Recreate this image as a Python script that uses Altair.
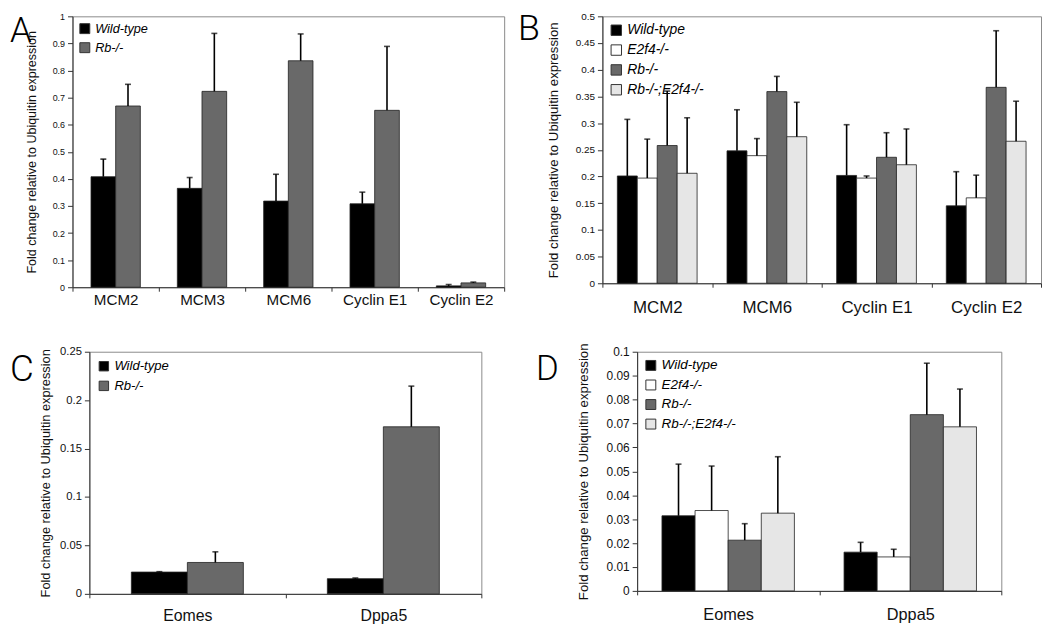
import altair as alt
import pandas as pd

FONT = "Liberation Sans"
YTITLE = "Fold change relative to Ubiquitin expression"

GENO_2 = ["Wild-type", "Rb-/-"]
GENO_4 = ["Wild-type", "E2f4-/-", "Rb-/-", "Rb-/-;E2f4-/-"]
COLORS_2 = ["#000000", "#696969"]
COLORS_4 = ["#000000", "#ffffff", "#696969", "#e6e6e6"]

# Panel A
a_genes = ["MCM2", "MCM3", "MCM6", "Cyclin E1", "Cyclin E2"]
a_wt = [0.408, 0.365, 0.318, 0.308, 0.005]
a_wt_err = [0.065, 0.040, 0.099, 0.043, 0.005]
a_rb = [0.669, 0.723, 0.836, 0.653, 0.016]
a_rb_err = [0.080, 0.214, 0.099, 0.236, 0.003]
a_ticks = [0, 0.1, 0.2, 0.3, 0.4, 0.5, 0.6, 0.7, 0.8, 0.9, 1]

# Panel B
b_genes = ["MCM2", "MCM6", "Cyclin E1", "Cyclin E2"]
b_wt = [0.201, 0.248, 0.202, 0.145]
b_wt_err = [0.106, 0.077, 0.095, 0.064]
b_e2f4 = [0.197, 0.239, 0.197, 0.160]
b_e2f4_err = [0.073, 0.032, 0.004, 0.0425]
b_rb = [0.258, 0.359, 0.236, 0.367]
b_rb_err = [0.102, 0.0285, 0.046, 0.106]
b_dko = [0.206, 0.2745, 0.222, 0.266]
b_dko_err = [0.104, 0.0645, 0.067, 0.075]
b_ticks = [0, 0.05, 0.1, 0.15, 0.2, 0.25, 0.3, 0.35, 0.4, 0.45, 0.5]

# Panel C
c_genes = ["Eomes", "Dppa5"]
c_wt = [0.0225, 0.0157]
c_wt_err = [0.0004, 0.0007]
c_rb = [0.0324, 0.1725]
c_rb_err = [0.011, 0.042]
c_ticks = [0, 0.05, 0.1, 0.15, 0.2, 0.25]

# Panel D
d_genes = ["Eomes", "Dppa5"]
d_wt = [0.0314, 0.0162]
d_wt_err = [0.0216, 0.0041]
d_e2f4 = [0.0336, 0.0142]
d_e2f4_err = [0.0186, 0.0032]
d_rb = [0.0212, 0.0737]
d_rb_err = [0.0069, 0.0215]
d_dko = [0.0325, 0.0686]
d_dko_err = [0.0236, 0.0158]
d_ticks = [0, 0.01, 0.02, 0.03, 0.04, 0.05, 0.06, 0.07, 0.08, 0.09, 0.1]


def make_df(genes, series):
    rows = []
    for geno, vals, errs in series:
        for gene, v, e in zip(genes, vals, errs):
            rows.append({"gene": gene, "genotype": geno, "value": v, "upper": v + e})
    return pd.DataFrame(rows)


def panel(letter, genes, genos, colors, df, yticks, w, h, c):
    xaxis = alt.Axis(labelAngle=0, tickBand="extent", tickSize=4, labelPadding=c["xpad"],
                     labelFontSize=c["xfs"], labelFont=FONT, labelColor="#111",
                     domainColor="#333", tickColor="#333", grid=False, title=None)
    x = alt.X("gene:N", sort=genes, scale=alt.Scale(paddingInner=0, paddingOuter=0),
              axis=xaxis, title=None)
    xo = alt.XOffset("genotype:N", sort=genos,
                     scale=alt.Scale(paddingInner=0, paddingOuter=0.75))
    yaxis = alt.Axis(values=yticks, format="~g", title=YTITLE, grid=False,
                     tickSize=5, labelPadding=3, labelFontSize=c["yfs"], labelFont=FONT,
                     labelColor="#111", titleFont=FONT, titleFontSize=c["tfs"],
                     titleFontWeight="normal", titleColor="#111", titlePadding=c["tpad"],
                     domainColor="#333", tickColor="#333")
    yscale = alt.Scale(domain=[0, yticks[-1]], nice=False, zero=True)
    legend = alt.Legend(title=None, orient="top-left", offset=c["loff"], padding=0,
                        symbolType="square", symbolSize=c["ssize"], symbolStrokeColor="#333",
                        symbolStrokeWidth=1, symbolOpacity=1, labelFont=FONT,
                        labelFontStyle="italic", labelFontSize=c["lfs"], labelColor="#000",
                        rowPadding=c["lrow"], labelOffset=4)
    color = alt.Color("genotype:N", sort=genos,
                      scale=alt.Scale(domain=genos, range=colors), legend=legend)
    base = alt.Chart(df).encode(x=x, xOffset=xo)
    bars = base.mark_bar(stroke="#222", strokeWidth=0.8).encode(
        y=alt.Y("value:Q", scale=yscale, axis=yaxis, title=YTITLE), color=color)
    rules = base.mark_rule(color="black", strokeWidth=1.6).encode(
        y=alt.Y("value:Q", scale=yscale, axis=yaxis, title=YTITLE), y2="upper:Q")
    caps = base.mark_tick(color="black", thickness=1.6, size=6).encode(
        y=alt.Y("upper:Q", scale=yscale, axis=yaxis, title=YTITLE))
    lab = alt.Chart(pd.DataFrame({"t": [letter]})).mark_text(
        align="left", baseline="top", fontSize=c["letfs"], font="Roboto", fontWeight=300,
        color="black").encode(text="t:N", x=alt.value(c["lx"]), y=alt.value(c["ly"]))
    return alt.layer(bars, rules, caps, lab).properties(width=w, height=h)


def spacer():
    return alt.Chart(pd.DataFrame({"z": [0]})).mark_rule(strokeWidth=0, opacity=0).encode(
        x=alt.value(0), y=alt.value(0), y2=alt.value(1)
    ).properties(width=1, height=1, view=alt.ViewBackground(stroke=None))


df_a = make_df(a_genes, [("Wild-type", a_wt, a_wt_err), ("Rb-/-", a_rb, a_rb_err)])
df_b = make_df(b_genes, [("Wild-type", b_wt, b_wt_err), ("E2f4-/-", b_e2f4, b_e2f4_err),
                         ("Rb-/-", b_rb, b_rb_err), ("Rb-/-;E2f4-/-", b_dko, b_dko_err)])
df_c = make_df(c_genes, [("Wild-type", c_wt, c_wt_err), ("Rb-/-", c_rb, c_rb_err)])
df_d = make_df(d_genes, [("Wild-type", d_wt, d_wt_err), ("E2f4-/-", d_e2f4, d_e2f4_err),
                         ("Rb-/-", d_rb, d_rb_err), ("Rb-/-;E2f4-/-", d_dko, d_dko_err)])

pa = panel("A", a_genes, GENO_2, COLORS_2, df_a, a_ticks, 435, 273,
           dict(xpad=1, xfs=15.3, yfs=9, tfs=12.6, tpad=13.5, loff=6, ssize=100, lfs=12.8,
                lrow=4.2, letfs=35, lx=-63, ly=-2))
pb = panel("B", b_genes, GENO_4, COLORS_4, df_b, b_ticks, 442, 269,
           dict(xpad=12, xfs=17, yfs=10, tfs=13.3, tpad=14.8, loff=7, ssize=110, lfs=14,
                lrow=4, letfs=36, lx=-85, ly=-4))
pc = panel("C", c_genes, GENO_2, COLORS_2, df_c, c_ticks, 395, 244,
           dict(xpad=10, xfs=16, yfs=11.3, tfs=12.9, tpad=7, loff=8, ssize=90, lfs=13.2,
                lrow=4.8, letfs=37, lx=-80, ly=0))
pd_ = panel("D", d_genes, GENO_4, COLORS_4, df_d, d_ticks, 367, 241,
            dict(xpad=12, xfs=16.4, yfs=12, tfs=13.35, tpad=15.9, loff=7, ssize=100, lfs=13.6,
                 lrow=4.7, letfs=35, lx=-102, ly=0))

RES = dict(color="independent", x="independent", y="independent", xOffset="independent")

row1 = alt.hconcat(alt.hconcat(spacer(), pa, spacing=0).resolve_scale(**RES), pb,
                   spacing=12).resolve_scale(**RES)
row2 = alt.hconcat(alt.hconcat(spacer(), pc, spacing=0).resolve_scale(**RES), pd_,
                   spacing=53).resolve_scale(**RES)
chart = (alt.vconcat(row1, row2, spacing=26,
                     padding={"left": 0, "top": 0, "right": 0, "bottom": 0})
         .resolve_scale(**RES)
         .configure_view(stroke="#8a8a8a", strokeWidth=1))

chart.save("out.html", embed_options={"renderer": "svg", "actions": False})
